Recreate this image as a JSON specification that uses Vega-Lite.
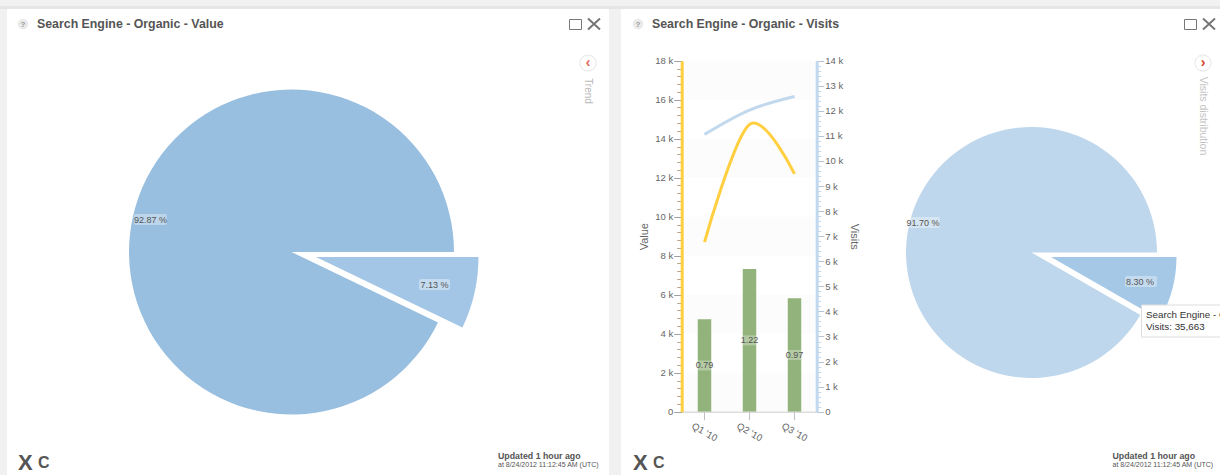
{
"$schema":"https://vega.github.io/schema/vega-lite/v6.json",
"width":1220,"height":475,"padding":0,"autosize":{"type":"none"},
"background":"#f1f1f1",
"config":{"view":{"stroke":null},"font":"Liberation Sans","text":{"baseline":"alphabetic"}},
"data":{"values":[{"id":1}]},
"datasets":{
"quarters":[{"q":"Q1 '10","ratio":0.79,"value":8700,"visits":11060},{"q":"Q2 '10","ratio":1.22,"value":14730,"visits":12030},{"q":"Q3 '10","ratio":0.97,"value":12200,"visits":12570}],
"bands":[{"from":0,"to":2000},{"from":4000,"to":6000},{"from":8000,"to":10000},{"from":12000,"to":14000},{"from":16000,"to":18000}],
"pieValue":[{"slice":"Search Engine - Organic","pct":7.13},{"slice":"Other","pct":92.87}],
"pieVisits":[{"slice":"Search Engine - Organic","pct":8.30},{"slice":"Other","pct":91.70}]
},
"resolve":{"scale":{"y":"independent"},"axis":{"y":"independent"}},
"layer":[
{"mark":{"type":"rect","x":0,"x2":1220,"y":6,"y2":9,"color":"#e6e6e6"},"encoding":{}},
{"mark":{"type":"rect","x":7,"x2":609,"y":9,"y2":475,"color":"#ffffff"},"encoding":{}},
{"mark":{"type":"rect","x":621,"x2":1220,"y":9,"y2":475,"color":"#ffffff"},"encoding":{}},
{"mark":{"type":"text","x":37,"y":28,"text":"Search Engine - Organic - Value","fontWeight":"bold","fontSize":12.35,"color":"#555555","align":"left"},"encoding":{}},
{"mark":{"type":"text","x":652,"y":28,"text":"Search Engine - Organic - Visits","fontWeight":"bold","fontSize":12.35,"color":"#555555","align":"left"},"encoding":{}},
{"mark":{"type":"point","x":23,"y":24,"size":110,"filled":true,"color":"#eaeaea","opacity":1},"encoding":{}},
{"mark":{"type":"point","x":638,"y":24,"size":110,"filled":true,"color":"#eaeaea","opacity":1},"encoding":{}},
{"mark":{"type":"text","x":23,"y":27,"text":"?","fontWeight":"bold","fontSize":8,"color":"#999999"},"encoding":{}},
{"mark":{"type":"text","x":638,"y":27,"text":"?","fontWeight":"bold","fontSize":8,"color":"#999999"},"encoding":{}},
{"mark":{"type":"rect","x":569.5,"x2":581.5,"y":19.5,"y2":29.5,"fill":"#ffffff","stroke":"#777777","strokeWidth":1},"encoding":{}},
{"mark":{"type":"rect","x":1184.5,"x2":1196.5,"y":19.5,"y2":29.5,"fill":"#ffffff","stroke":"#777777","strokeWidth":1},"encoding":{}},
{"mark":{"type":"point","x":594,"y":24,"shape":"M-6,-5.5L6,5.5M6,-5.5L-6,5.5","size":4,"filled":false,"color":"#777777","strokeWidth":2,"opacity":1},"encoding":{}},
{"mark":{"type":"point","x":1209,"y":24,"shape":"M-6,-5.5L6,5.5M6,-5.5L-6,5.5","size":4,"filled":false,"color":"#777777","strokeWidth":2,"opacity":1},"encoding":{}},
{"mark":{"type":"point","x":588,"y":63,"size":260,"filled":false,"color":"#e6e6e6","strokeWidth":1,"opacity":1},"encoding":{}},
{"mark":{"type":"text","x":588,"y":63,"text":"‹","baseline":"middle","fontWeight":"bold","fontSize":14,"color":"#e0685a"},"encoding":{}},
{"mark":{"type":"text","x":588,"y":91,"text":"Trend","angle":90,"baseline":"middle","fontSize":10,"color":"#b8b8b8"},"encoding":{}},
{"mark":{"type":"point","x":1203,"y":63,"size":260,"filled":false,"color":"#e6e6e6","strokeWidth":1,"opacity":1},"encoding":{}},
{"mark":{"type":"text","x":1203,"y":63,"text":"›","baseline":"middle","fontWeight":"bold","fontSize":14,"color":"#d9412b"},"encoding":{}},
{"mark":{"type":"text","x":1203,"y":116,"text":"Visits distribution","angle":90,"baseline":"middle","fontSize":10.5,"color":"#c4c4c4"},"encoding":{}},
{"mark":{"type":"text","x":18,"y":470,"text":"X","align":"left","fontFamily":"Liberation Serif","fontWeight":"bold","fontSize":22,"color":"#555555"},"encoding":{}},
{"mark":{"type":"text","x":38,"y":468,"text":"C","align":"left","fontWeight":"bold","fontSize":16,"color":"#555555"},"encoding":{}},
{"mark":{"type":"text","x":633,"y":470,"text":"X","align":"left","fontFamily":"Liberation Serif","fontWeight":"bold","fontSize":22,"color":"#555555"},"encoding":{}},
{"mark":{"type":"text","x":653,"y":468,"text":"C","align":"left","fontWeight":"bold","fontSize":16,"color":"#555555"},"encoding":{}},
{"mark":{"type":"text","x":498,"y":459,"text":"Updated 1 hour ago","align":"left","fontWeight":"bold","fontSize":8.8,"color":"#555555"},"encoding":{}},
{"mark":{"type":"text","x":498,"y":467,"text":"at 8/24/2012 11:12:45 AM (UTC)","align":"left","fontSize":7,"color":"#555555"},"encoding":{}},
{"mark":{"type":"text","x":1112.5,"y":459,"text":"Updated 1 hour ago","align":"left","fontWeight":"bold","fontSize":8.8,"color":"#555555"},"encoding":{}},
{"mark":{"type":"text","x":1112.5,"y":467,"text":"at 8/24/2012 11:12:45 AM (UTC)","align":"left","fontSize":7,"color":"#555555"},"encoding":{}},

{"data":{"name":"pieValue"},
"transform":[{"stack":"pct","groupby":[],"sort":[{"field":"slice","order":"descending"}],"as":["start","end"]},{"filter":"datum.slice==='Other'"}],
"mark":{"type":"arc","x":291.5,"y":252,"outerRadius":162.5,"color":"#98bfe0"},
"encoding":{"theta":{"field":"start","type":"quantitative","scale":{"domain":[0,100],"range":[1.5708,7.854]}},"theta2":{"field":"end"}}},
{"data":{"name":"pieValue"},
"transform":[{"stack":"pct","groupby":[],"sort":[{"field":"slice","order":"descending"}],"as":["start","end"]},{"filter":"datum.slice!=='Other'"}],
"mark":{"type":"arc","x":316,"y":257,"outerRadius":162.5,"color":"#a3c6e6"},
"encoding":{"theta":{"field":"start","type":"quantitative","scale":{"domain":[0,100],"range":[1.5708,7.854]}},"theta2":{"field":"end"}}},
{"data":{"name":"pieVisits"},
"transform":[{"stack":"pct","groupby":[],"sort":[{"field":"slice","order":"descending"}],"as":["start","end"]},{"filter":"datum.slice==='Other'"}],
"mark":{"type":"arc","x":1031.5,"y":252.5,"outerRadius":125.5,"color":"#bfd7ec"},
"encoding":{"theta":{"field":"start","type":"quantitative","scale":{"domain":[0,100],"range":[1.5708,7.854]}},"theta2":{"field":"end"}}},
{"data":{"name":"pieVisits"},
"transform":[{"stack":"pct","groupby":[],"sort":[{"field":"slice","order":"descending"}],"as":["start","end"]},{"filter":"datum.slice!=='Other'"}],
"mark":{"type":"arc","x":1051,"y":257,"outerRadius":125.5,"color":"#a5c8e6"},
"encoding":{"theta":{"field":"start","type":"quantitative","scale":{"domain":[0,100],"range":[1.5708,7.854]}},"theta2":{"field":"end"}}},

{"mark":{"type":"rect","x":134,"x2":167,"y":214,"y2":225,"color":"#ffffff","opacity":0.35,"cornerRadius":2},"encoding":{}},
{"mark":{"type":"rect","x":419,"x2":450,"y":279,"y2":290,"color":"#ffffff","opacity":0.35,"cornerRadius":2},"encoding":{}},
{"mark":{"type":"rect","x":906,"x2":940,"y":217,"y2":228,"color":"#ffffff","opacity":0.35,"cornerRadius":2},"encoding":{}},
{"mark":{"type":"rect","x":1125,"x2":1157,"y":276,"y2":287,"color":"#ffffff","opacity":0.35,"cornerRadius":2},"encoding":{}},
{"mark":{"type":"text","x":150.5,"y":223,"text":"92.87 %","fontSize":9,"color":"#555555"},"encoding":{}},
{"mark":{"type":"text","x":434.5,"y":288,"text":"7.13 %","fontSize":9,"color":"#555555"},"encoding":{}},
{"mark":{"type":"text","x":923,"y":226,"text":"91.70 %","fontSize":9,"color":"#555555"},"encoding":{}},
{"mark":{"type":"text","x":1140,"y":285,"text":"8.30 %","fontSize":9,"color":"#555555"},"encoding":{}},
{"mark":{"type":"rect","x":1141.5,"x2":1225,"y":305,"y2":337,"fill":"#ffffff","stroke":"#dddddd","strokeWidth":1},"encoding":{}},
{"mark":{"type":"text","x":1146,"y":318,"text":"Search Engine - Organic","align":"left","fontSize":9.8,"color":"#333333"},"encoding":{}},
{"mark":{"type":"text","x":1146,"y":330,"text":"Visits: 35,663","align":"left","fontSize":9.8,"color":"#333333"},"encoding":{}},

{"data":{"name":"bands"},
"mark":{"type":"rect","x":682,"x2":817,"color":"#fcfcfc"},
"encoding":{"y":{"field":"from","type":"quantitative","title":null,"scale":{"domain":[0,18000],"range":[411.7,60.7],"nice":false},
"axis":{"zindex":1,"orient":"left","offset":-681.7,"values":[0,400,800,1200,1600,2400,2800,3200,3600,4400,4800,5200,5600,6400,6800,7200,7600,8400,8800,9200,9600,10400,10800,11200,11600,12400,12800,13200,13600,14400,14800,15200,15600,16400,16800,17200,17600],"labels":false,"domain":false,"grid":false,"title":null,"tickSize":5,"tickColor":"#b9a98a"}},
"y2":{"field":"to"}}},

{"data":{"name":"quarters"},
"mark":{"type":"bar","width":13.5,"color":"#92b47c"},
"encoding":{"x":{"field":"q","type":"nominal","sort":null,"title":null,"scale":{"range":[682,817],"paddingInner":0,"paddingOuter":0},
"axis":{"zindex":1,"orient":"bottom","offset":-63.3,"labelAngle":30,"labelAlign":"center","labelBaseline":"middle","labelPadding":12,"tickSize":8,"tickColor":"#c0c0c0","domainColor":"#cccccc","domainWidth":1,"labelColor":"#666666","labelFontSize":9.5,"grid":false}},
"y":{"field":"ratio","type":"quantitative","axis":null,"scale":{"domain":[0,3],"range":[411.7,60.7],"nice":false}}}},
{"data":{"name":"quarters"},
"mark":{"type":"tick","size":13.5,"thickness":10,"color":"#ffffff","opacity":0.3},
"encoding":{"x":{"field":"q","type":"nominal","sort":null},
"y":{"field":"ratio","type":"quantitative","axis":null,"scale":{"domain":[0,6],"range":[411.7,60.7],"nice":false}}}},
{"data":{"name":"quarters"},
"mark":{"type":"text","fontSize":9,"color":"#555555","baseline":"middle"},
"encoding":{"x":{"field":"q","type":"nominal","sort":null},
"y":{"field":"ratio","type":"quantitative","axis":null,"scale":{"domain":[0,6],"range":[411.7,60.7],"nice":false}},
"text":{"field":"ratio","type":"quantitative","format":".2f"}}},

{"data":{"name":"quarters"},
"mark":{"type":"line","interpolate":"cardinal","color":"#ffcf40","strokeWidth":3},
"encoding":{"x":{"field":"q","type":"nominal","sort":null},
"y":{"field":"value","type":"quantitative","title":"Value","scale":{"domain":[0,18000],"range":[411.7,60.7],"nice":false},
"axis":{"zindex":1,"orient":"left","offset":-681.7,"values":[0,2000,4000,6000,8000,10000,12000,14000,16000,18000],"labelExpr":"datum.value===0?'0':(datum.value/1000)+' k'","labelColor":"#666666","labelFontSize":9.5,"labelPadding":1,"tickSize":8,"tickColor":"#a0a0a0","domainColor":"#ffcf40","domainWidth":3,"titleColor":"#666666","titleFontSize":11,"titleFontWeight":"normal","titlePadding":5,"grid":false}}}},

{"data":{"name":"quarters"},
"mark":{"type":"line","interpolate":"cardinal","color":"#c2d9ed","strokeWidth":3},
"encoding":{"x":{"field":"q","type":"nominal","sort":null},
"y":{"field":"visits","type":"quantitative","title":"Visits","scale":{"domain":[0,14000],"range":[411.7,60.7],"nice":false},
"axis":{"zindex":1,"orient":"right","offset":-403.3,"values":[0,1000,2000,3000,4000,5000,6000,7000,8000,9000,10000,11000,12000,13000,14000],"labelExpr":"datum.value===0?'0':(datum.value/1000)+' k'","labelColor":"#666666","labelFontSize":9.5,"labelPadding":1,"tickSize":7,"tickColor":"#b4c4d4","domainColor":"#c2d9ed","domainWidth":3,"titleColor":"#666666","titleFontSize":11,"titleFontWeight":"normal","titlePadding":6,"grid":false}}}},
{"data":{"name":"quarters"},
"mark":{"type":"line","opacity":0},
"encoding":{"x":{"field":"q","type":"nominal","sort":null},
"y":{"field":"visits","type":"quantitative","title":null,"scale":{"domain":[0,14000],"range":[411.7,60.7],"nice":false},
"axis":{"zindex":1,"orient":"right","offset":-403.3,"values":[200,400,600,800,1200,1400,1600,1800,2200,2400,2600,2800,3200,3400,3600,3800,4200,4400,4600,4800,5200,5400,5600,5800,6200,6400,6600,6800,7200,7400,7600,7800,8200,8400,8600,8800,9200,9400,9600,9800,10200,10400,10600,10800,11200,11400,11600,11800,12200,12400,12600,12800,13200,13400,13600,13800],"labels":false,"domain":false,"grid":false,"title":null,"tickSize":4,"tickColor":"#c2d9ed"}}}}
]
}
